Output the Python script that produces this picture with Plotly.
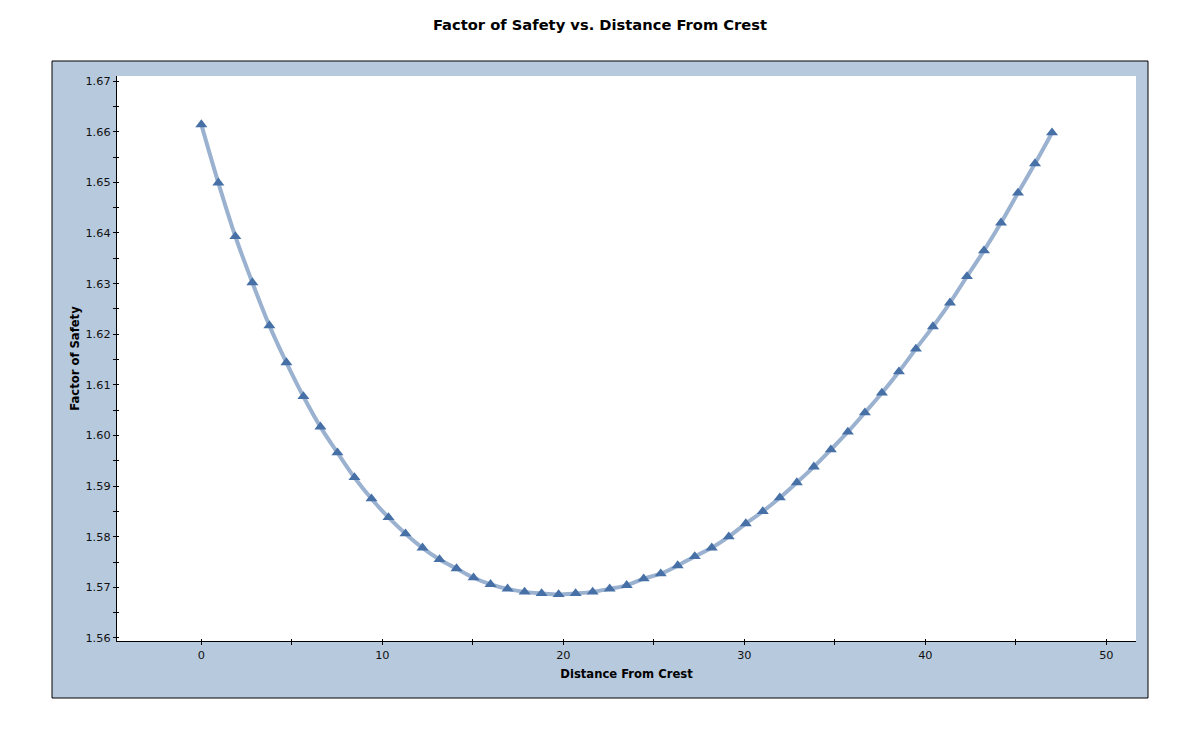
import plotly.graph_objects as go

distance = [0, 0.94, 1.88, 2.82, 3.76, 4.70, 5.64, 6.58, 7.52, 8.46, 9.40, 10.34, 11.28,
            12.22, 13.16, 14.10, 15.04, 15.98, 16.92, 17.86, 18.80, 19.74, 20.68, 21.62,
            22.56, 23.50, 24.44, 25.38, 26.32, 27.26, 28.20, 29.14, 30.08, 31.02, 31.96,
            32.90, 33.84, 34.78, 35.72, 36.66, 37.60, 38.54, 39.48, 40.42, 41.36, 42.30,
            43.24, 44.18, 45.12, 46.06, 47.00]
fos = [1.6614, 1.6499, 1.6393, 1.6302, 1.6217, 1.6144, 1.6077, 1.6017, 1.5966, 1.5917,
       1.5875, 1.5838, 1.5806, 1.5778, 1.5755, 1.5737, 1.5719, 1.5706, 1.5697, 1.5691,
       1.5688, 1.5686, 1.5688, 1.5691, 1.5697, 1.5704, 1.5717, 1.5727, 1.5743, 1.5761,
       1.5778, 1.5800, 1.5826, 1.5850, 1.5877, 1.5907, 1.5938, 1.5972, 1.6007, 1.6045,
       1.6084, 1.6126, 1.6171, 1.6215, 1.6262, 1.6314, 1.6365, 1.6420, 1.6479, 1.6537,
       1.6598]

title_text = "Factor of Safety vs. Distance From Crest"
x_title = "Distance From Crest"
y_title = "Factor of Safety"

X_RANGE = [-4.66, 51.64]
Y_RANGE = [1.5594, 1.6710]

FONT = "DejaVu Sans, Verdana, sans-serif"
FRAME = "#b7c9dc"

fig = go.Figure()
fig.add_trace(go.Scatter(
    x=distance, y=fos, mode="lines",
    line=dict(color="#9ab1d0", width=4, shape="spline"),
    hoverinfo="skip", showlegend=False,
))
fig.add_trace(go.Scatter(
    x=distance, y=fos, mode="markers",
    marker=dict(symbol="triangle-up", size=10.5, color="#4670a6", line=dict(width=0)),
    showlegend=False,
))

W, H = 1200, 729
L, R, T, B = 117, 1136, 76, 641
pw, ph = R - L, B - T

def px_x(p):
    return (p - L) / pw

def px_y(p):
    return (B - p) / ph

fig.add_shape(type="rect", xref="paper", yref="paper",
              x0=px_x(52), x1=px_x(1148), y0=px_y(698), y1=px_y(61),
              fillcolor=FRAME, line=dict(color="black", width=1), layer="below")
fig.add_shape(type="rect", xref="paper", yref="paper",
              x0=0, x1=1, y0=0, y1=1,
              fillcolor="white", line=dict(width=0), layer="below")

axis_common = dict(showgrid=False, zeroline=False, showline=True, linecolor="black",
                   linewidth=1.3, ticks="outside", ticklen=3, tickwidth=1, tickcolor="black",
                   tickfont=dict(family=FONT, size=11.3, color="#111"))

fig.update_layout(
    width=W, height=H,
    margin=dict(l=L, r=W - R, t=T, b=H - B, autoexpand=False),
    paper_bgcolor="white", plot_bgcolor="white",
    title=dict(text="<b>" + title_text + "</b>", x=0.5, xref="container", xanchor="center",
               y=1 - 25 / H, yanchor="middle",
               font=dict(family=FONT, size=14.7, color="black")),
    xaxis=dict(range=X_RANGE, dtick=10, tick0=0,
               minor=dict(dtick=5, ticks="outside", ticklen=3, tickcolor="black"),
               title=dict(text="<b>" + x_title + "</b>", standoff=9,
                          font=dict(family=FONT, size=11.6, color="black")),
               **axis_common),
    yaxis=dict(range=Y_RANGE, dtick=0.01, tick0=1.56, tickformat=".2f",
               minor=dict(dtick=0.005, ticks="outside", ticklen=3, tickcolor="black"),
               title=dict(text="<b>" + y_title + "</b>", standoff=3,
                          font=dict(family=FONT, size=11.6, color="black")),
               **axis_common),
    xaxis2=dict(range=X_RANGE, overlaying="x", anchor="y", side="bottom", dtick=10, tick0=0,
                showgrid=False, zeroline=False, showline=False, ticks="inside", ticklen=2,
                tickcolor="black", showticklabels=False,
                minor=dict(dtick=5, ticks="inside", ticklen=2, tickcolor="black")),
    yaxis2=dict(range=Y_RANGE, overlaying="y", anchor="x", side="left", dtick=0.01, tick0=1.56,
                showgrid=False, zeroline=False, showline=False, ticks="inside", ticklen=2,
                tickcolor="black", showticklabels=False,
                minor=dict(dtick=0.005, ticks="inside", ticklen=2, tickcolor="black")),
)
fig.add_trace(go.Scatter(x=[None], y=[None], xaxis="x2", yaxis="y2", showlegend=False,
                         hoverinfo="skip"))

fig.write_html("out.html")
